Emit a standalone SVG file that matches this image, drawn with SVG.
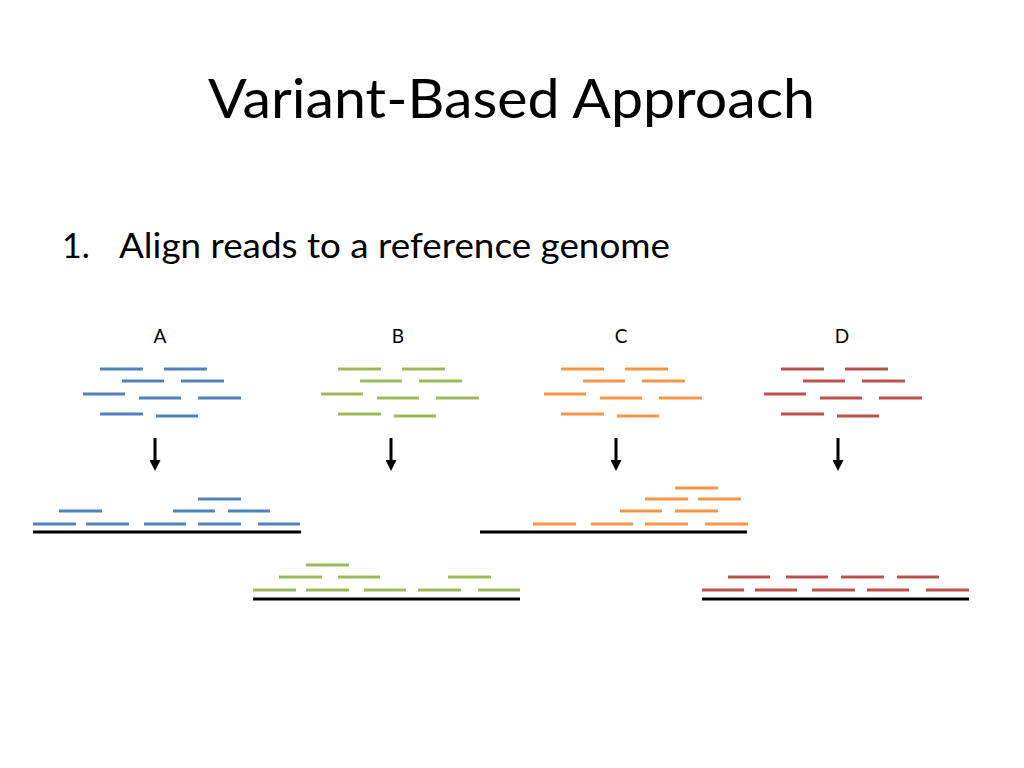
<svg xmlns="http://www.w3.org/2000/svg" width="1024" height="768" viewBox="0 0 1024 768">
<style>
text{font-family:Lato,"Open Sans","Liberation Sans",sans-serif;fill:#000;stroke:none}
.r{stroke-width:3}
.a{stroke:#4F81BD}.b{stroke:#9BBB59}.c{stroke:#F79646}.d{stroke:#C0504D}
.ref{stroke:#000;stroke-width:3}
.arr{stroke:#000;stroke-width:3}
</style>
<defs>
<marker id="ah" markerWidth="11" markerHeight="11" refX="5" refY="5.5" orient="auto" markerUnits="userSpaceOnUse" viewBox="0 0 11 11"><path d="M0,0 L11,5.5 L0,11 z" fill="#000"/></marker>
<g id="reads">
<line x1="100" y1="369" x2="143" y2="369"/><line x1="164" y1="369" x2="207" y2="369"/>
<line x1="122" y1="381" x2="164" y2="381"/><line x1="181" y1="381" x2="224" y2="381"/>
<line x1="83" y1="394" x2="125" y2="394"/><line x1="139" y1="398" x2="181" y2="398"/><line x1="198" y1="398" x2="241" y2="398"/>
<line x1="100" y1="414" x2="143" y2="414"/><line x1="156" y1="416" x2="198" y2="416"/>
</g>
</defs>
<text x="208" y="118" font-size="54" textLength="607" lengthAdjust="spacingAndGlyphs">Variant-Based Approach</text>
<text x="62" y="258" font-size="34">1.</text>
<text x="119" y="258" font-size="34" textLength="551" lengthAdjust="spacingAndGlyphs">Align reads to a reference genome</text>
<g id="nodeA" class="r a">
<text x="160" y="343" font-size="19" text-anchor="middle">A</text>
<use href="#reads"/>
<line x1="33" y1="524" x2="76" y2="524"/><line x1="86" y1="524" x2="129" y2="524"/><line x1="144" y1="524" x2="186" y2="524"/><line x1="198" y1="524" x2="241" y2="524"/><line x1="258" y1="524" x2="300" y2="524"/>
<line x1="59" y1="511" x2="102" y2="511"/><line x1="173" y1="511" x2="215" y2="511"/><line x1="228" y1="511" x2="270" y2="511"/>
<line x1="198" y1="499" x2="241" y2="499"/>
<line class="ref" x1="33" y1="532" x2="301" y2="532"/>
</g>
<g id="nodeB" class="r b">
<text x="398" y="343" font-size="19" text-anchor="middle">B</text>
<use href="#reads" transform="translate(238,0)"/>
<line x1="253" y1="590" x2="296" y2="590"/><line x1="306" y1="590" x2="349" y2="590"/><line x1="364" y1="590" x2="406" y2="590"/><line x1="418" y1="590" x2="461" y2="590"/><line x1="478" y1="590" x2="520" y2="590"/>
<line x1="279" y1="577" x2="322" y2="577"/><line x1="338" y1="577" x2="380" y2="577"/><line x1="448" y1="577" x2="491" y2="577"/>
<line x1="306" y1="565" x2="349" y2="565"/>
<line class="ref" x1="253" y1="599" x2="520" y2="599"/>
</g>
<g id="nodeC" class="r c">
<text x="621" y="343" font-size="19" text-anchor="middle">C</text>
<use href="#reads" transform="translate(461,0)"/>
<line x1="533" y1="524" x2="576" y2="524"/><line x1="591" y1="524" x2="633" y2="524"/><line x1="645" y1="524" x2="688" y2="524"/><line x1="705" y1="524" x2="748" y2="524"/>
<line x1="620" y1="511" x2="662" y2="511"/><line x1="675" y1="511" x2="718" y2="511"/>
<line x1="645" y1="499" x2="688" y2="499"/><line x1="698" y1="499" x2="741" y2="499"/>
<line x1="675" y1="488" x2="718" y2="488"/>
<line class="ref" x1="480" y1="532" x2="747" y2="532"/>
</g>
<g id="nodeD" class="r d">
<text x="842" y="343" font-size="19" text-anchor="middle">D</text>
<use href="#reads" transform="translate(681,0)"/>
<line x1="702" y1="590" x2="744" y2="590"/><line x1="755" y1="590" x2="797" y2="590"/><line x1="812" y1="590" x2="855" y2="590"/><line x1="867" y1="590" x2="909" y2="590"/><line x1="926" y1="590" x2="969" y2="590"/>
<line x1="728" y1="577" x2="770" y2="577"/><line x1="786" y1="577" x2="828" y2="577"/><line x1="841" y1="577" x2="884" y2="577"/><line x1="897" y1="577" x2="939" y2="577"/>
<line class="ref" x1="702" y1="599" x2="969" y2="599"/>
</g>
<g id="connectors">
<line class="arr" x1="155" y1="438" x2="155" y2="465" marker-end="url(#ah)"/>
<line class="arr" x1="391" y1="438" x2="391" y2="465" marker-end="url(#ah)"/>
<line class="arr" x1="616" y1="438" x2="616" y2="465" marker-end="url(#ah)"/>
<line class="arr" x1="838" y1="438" x2="838" y2="465" marker-end="url(#ah)"/>
</g>
</svg>
